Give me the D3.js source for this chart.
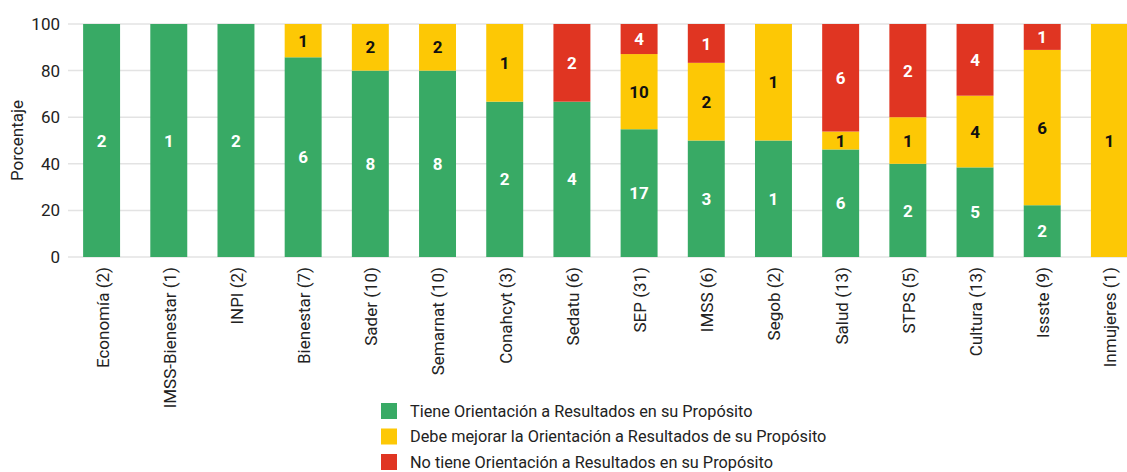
<!DOCTYPE html>
<html>
<head>
<meta charset="utf-8">
<script src="https://cdn.jsdelivr.net/npm/d3@7"></script>
<style>
  body { margin: 0; background: #fff; }
  text { font-family: "Roboto", sans-serif; fill: #222; }
</style>
</head>
<body>
<div id="chart"></div>
<script>
const categories = ["Economía (2)", "IMSS-Bienestar (1)", "INPI (2)", "Bienestar (7)", "Sader (10)",
  "Semarnat (10)", "Conahcyt (3)", "Sedatu (6)", "SEP (31)", "IMSS (6)", "Segob (2)", "Salud (13)",
  "STPS (5)", "Cultura (13)", "Issste (9)", "Inmujeres (1)"];
const tiene   = [2, 1, 2, 6, 8, 8, 2, 4, 17, 3, 1, 6, 2, 5, 2, 0];
const mejorar = [0, 0, 0, 1, 2, 2, 1, 0, 10, 2, 1, 1, 1, 4, 6, 1];
const noTiene = [0, 0, 0, 0, 0, 0, 0, 2, 4, 1, 0, 6, 2, 4, 1, 0];
const yTicks = [0, 20, 40, 60, 80, 100];

const seriesNames = ["Tiene Orientación a Resultados en su Propósito",
  "Debe mejorar la Orientación a Resultados de su Propósito",
  "No tiene Orientación a Resultados en su Propósito"];
const colors = ["#38aa65", "#fdc805", "#e03522"];
const labelColors = ["#fff", "#111", "#fff"];

const width = 1127, height = 472;
const margin = {top: 24, right: -16, bottom: 215, left: 68};
const innerW = width - margin.left - margin.right;
const innerH = height - margin.top - margin.bottom;

const svg = d3.select("#chart").append("svg")
  .attr("width", width)
  .attr("height", height);
const g = svg.append("g").attr("transform", `translate(${margin.left},${margin.top})`);

const rows = categories.map((c, i) => {
  const vals = [tiene[i], mejorar[i], noTiene[i]];
  const total = d3.sum(vals);
  return {cat: c, vals, total};
});

const x = d3.scaleBand().domain(categories).range([0, innerW]).paddingInner(0.45).paddingOuter(0.225);
const y = d3.scaleLinear().domain([0, 100]).range([innerH, 0]);

// grid
g.selectAll("line.grid").data(yTicks).join("line")
  .attr("class", "grid")
  .attr("x1", 0).attr("x2", width - margin.left)
  .attr("y1", d => y(d)).attr("y2", d => y(d))
  .attr("stroke", "#e3e3e3").attr("stroke-width", 1.5);

const yAxis = g.append("g").call(d3.axisLeft(y).tickValues(yTicks).tickSize(0).tickPadding(8));
yAxis.select(".domain").remove();
yAxis.selectAll("text").style("font-size", "17px").attr("fill", "#222");

svg.append("text")
  .attr("transform", `translate(23,${margin.top + innerH / 2}) rotate(-90)`)
  .attr("text-anchor", "middle")
  .style("font-size", "17px")
  .text("Porcentaje");

// stacked segments
const segs = [];
rows.forEach(r => {
  let acc = 0;
  r.vals.forEach((v, k) => {
    const p0 = acc / r.total * 100;
    acc += v;
    const p1 = acc / r.total * 100;
    if (v > 0) segs.push({cat: r.cat, k, v, p0, p1});
  });
});

g.selectAll("rect.seg").data(segs).join("rect")
  .attr("class", "seg")
  .attr("x", d => x(d.cat))
  .attr("width", x.bandwidth())
  .attr("y", d => y(d.p1))
  .attr("height", d => y(d.p0) - y(d.p1))
  .attr("fill", d => colors[d.k]);

g.selectAll("text.val").data(segs).join("text")
  .attr("class", "val")
  .attr("x", d => x(d.cat) + x.bandwidth() / 2)
  .attr("y", d => y((d.p0 + d.p1) / 2))
  .attr("dy", "0.36em")
  .attr("text-anchor", "middle")
  .style("font-size", "17px")
  .style("font-weight", "bold")
  .style("fill", d => labelColors[d.k])
  .text(d => d.v);

// x labels
g.selectAll("text.cat").data(categories).join("text")
  .attr("class", "cat")
  .attr("transform", d => `translate(${x(d) + x.bandwidth() / 2 + 1},${innerH + 10}) rotate(-90)`)
  .attr("text-anchor", "end")
  .attr("dy", "0.35em")
  .style("font-size", "17px")
  .text(d => d);

// legend
const legend = svg.append("g").attr("transform", "translate(381,403)");
const li = legend.selectAll("g").data(seriesNames).join("g")
  .attr("transform", (d, i) => `translate(0,${i * 25.5})`);
li.append("rect").attr("width", 16).attr("height", 16).attr("fill", (d, i) => colors[i]);
li.append("text").attr("x", 29).attr("y", 8).attr("dy", "0.36em")
  .style("font-size", "16.3px").text(d => d);
</script>
</body>
</html>
